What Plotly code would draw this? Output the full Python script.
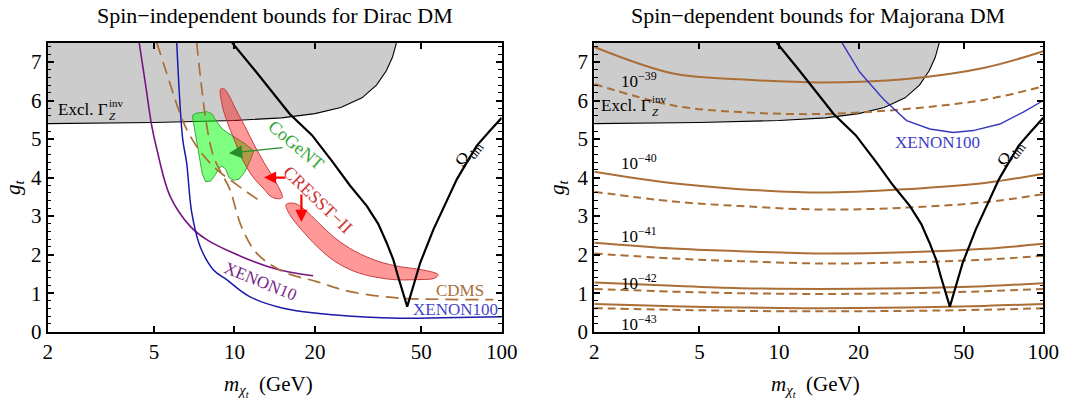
import numpy as np
import plotly.graph_objects as go

# ---------------- data ----------------
# Z invisible width exclusion boundary (both panels)
GZ_M = [2, 5, 10, 15, 20, 25, 30, 34, 37, 39, 40.4]
GZ_G = [5.40, 5.43, 5.48, 5.55, 5.66, 5.82, 6.07, 6.40, 6.77, 7.12, 7.5]

# relic density curve (both panels)
OM_M = [9.8, 12, 16.1, 19.5, 23.4, 27, 31.3, 34.5, 37.1, 39.3, 41.0, 42.7, 44.3,
        47.0, 49.5, 55.5, 61, 68, 75, 80.7, 90, 100]
OM_G = [7.5, 6.76, 5.65, 5.10, 4.39, 3.80, 3.26, 2.80, 2.31, 1.87, 1.42, 1.03, 0.65,
        1.25, 1.78, 2.65, 3.28, 3.96, 4.46, 4.83, 5.20, 5.55]

# left panel: spin-independent limits
X10_M = [4.40, 4.65, 4.90, 5.12, 5.74, 6.82, 7.87, 9.9, 13.2, 16.0, 19.7]
X10_G = [7.5, 6.40, 5.35, 4.74, 3.52, 2.74, 2.39, 2.04, 1.70, 1.55, 1.45]

X100L_M = [6.08, 6.40, 6.62, 6.92, 7.43, 8.33, 9.35, 11.4, 15.2, 23.4, 41.6, 60, 100]
X100L_G = [7.5, 5.00, 4.39, 3.09, 2.22, 1.61, 1.35, 0.91, 0.61, 0.44, 0.35, 0.36, 0.39]

CDMS_M = [7.22, 7.85, 8.30, 8.80, 9.60, 10.6, 12.1, 15.2, 20.3, 27.1, 41.6, 60, 93]
CDMS_G = [7.5, 5.40, 4.60, 4.20, 3.70, 2.74, 2.04, 1.56, 1.30, 1.04, 0.87, 0.84, 0.83]

CDMSLT_M = [5.12, 5.70, 6.30, 6.80, 7.60, 8.60, 9.60, 11.0, 12.4]
CDMSLT_G = [7.5, 6.50, 5.60, 5.10, 4.60, 4.20, 3.95, 3.65, 3.40]

COGENT_M = [6.95, 7.16, 7.91, 8.26, 8.51, 9.0, 9.40, 10.1, 11.0, 11.8, 11.5, 10.9, 10.4,
            9.96, 9.54, 9.27, 9.0, 8.75, 8.51, 8.15, 7.80, 7.58, 7.37, 7.26, 7.06, 6.95]
COGENT_G = [5.61, 5.67, 5.71, 5.65, 5.48, 5.26, 5.17, 5.04, 4.87, 4.69, 4.48, 4.13, 3.96,
            3.93, 4.00, 4.22, 4.29, 4.26, 4.09, 3.91, 3.89, 4.09, 4.56, 4.83, 5.26, 5.61]

CRESST1_M = [8.88, 9.0, 9.40, 9.96, 10.7, 11.66, 12.9, 13.67, 14.5, 15.1, 14.95, 14.06,
             12.9, 11.8, 10.9, 10.1, 9.54, 9.19, 8.88]
CRESST1_G = [6.30, 5.87, 5.44, 5.00, 4.48, 4.04, 3.70, 3.51, 3.45, 3.48, 3.61, 3.96,
             4.39, 4.87, 5.35, 5.78, 6.13, 6.29, 6.30]

CRESST2_M = [15.6, 16.8, 18.3, 20.6, 23.7, 28.2, 34.4, 42.1, 50.0, 57.8, 56.1, 47.2,
             39.8, 33.5, 28.2, 23.7, 20.6, 17.8, 16.1, 15.6]
CRESST2_G = [3.30, 3.33, 3.17, 2.83, 2.44, 2.09, 1.83, 1.68, 1.61, 1.48, 1.39, 1.35,
             1.35, 1.42, 1.56, 1.83, 2.18, 2.65, 3.04, 3.30]

# right panel: spin-dependent cross-section contours
SD_M = [2, 3.98, 7.11, 14.5, 30.4, 60, 100]
S39 = [7.39, 6.70, 6.55, 6.47, 6.56, 6.85, 7.28]
S39D = [6.43, 5.87, 5.70, 5.65, 5.78, 6.02, 6.37]
S40 = [4.15, 3.85, 3.70, 3.61, 3.70, 3.86, 4.10]
S40D = [3.63, 3.38, 3.26, 3.17, 3.22, 3.36, 3.57]
S41 = [2.31, 2.16, 2.09, 2.03, 2.06, 2.15, 2.28]
S41D = [2.03, 1.90, 1.83, 1.77, 1.80, 1.87, 1.97]
S42 = [1.28, 1.19, 1.13, 1.11, 1.13, 1.18, 1.26]
S42D = [1.11, 1.04, 1.00, 0.98, 1.00, 1.05, 1.11]
S43 = [0.72, 0.66, 0.63, 0.61, 0.63, 0.67, 0.72]
S43D = [0.61, 0.57, 0.54, 0.53, 0.54, 0.57, 0.61]
SD_LABELS = ["10<sup>−39</sup>", "10<sup>−40</sup>", "10<sup>−41</sup>",
             "10<sup>−42</sup>", "10<sup>−43</sup>"]
SD_LABEL_G = [6.54, 4.40, 2.52, 1.30, 0.22]

X100R_M = [17.3, 20.2, 24.8, 30.4, 37.2, 45.6, 54.3, 68.5, 84.0, 100]
X100R_G = [7.5, 6.74, 6.04, 5.48, 5.26, 5.17, 5.22, 5.39, 5.70, 6.0]

X_TICKS = [2, 5, 10, 20, 50, 100]
TITLES = ["Spin−independent bounds for Dirac DM", "Spin−dependent bounds for Majorana DM"]

# ---------------- styling ----------------
FONT = "Liberation Serif"
BROWN = "rgb(170,110,55)"
GRAY = "rgb(204,204,204)"
W, H = 1086, 407

def fx(px):
    return px / W

def fy(py):
    return 1 - py / H

fig = go.Figure()

def add(x, y, ax, **kw):
    xa, ya = ("x", "y") if ax == 1 else ("x2", "y2")
    fig.add_trace(go.Scatter(x=x, y=y, xaxis=xa, yaxis=ya, hoverinfo="skip", **kw))

for ax in (1, 2):
    add([2] + GZ_M + [2], [7.5] + GZ_G + [7.5], ax, mode="lines", fill="toself",
        fillcolor=GRAY, line=dict(width=0))
    add(GZ_M, GZ_G, ax, mode="lines", line=dict(color="black", width=1.1))

# left panel regions
add(COGENT_M, COGENT_G, 1, mode="lines", fill="toself", fillcolor="rgba(0,255,0,0.5)",
    line=dict(color="rgb(60,170,60)", width=1))
add(CRESST1_M, CRESST1_G, 1, mode="lines", fill="toself", fillcolor="rgba(255,0,0,0.4)",
    line=dict(color="rgb(200,60,60)", width=1), line_shape="spline")
add(CRESST2_M, CRESST2_G, 1, mode="lines", fill="toself", fillcolor="rgba(255,0,0,0.4)",
    line=dict(color="rgb(200,60,60)", width=1), line_shape="spline")

# left panel lines
add(X10_M, X10_G, 1, mode="lines", line=dict(color="rgb(120,20,130)", width=1.6, shape="spline"))
add(X100L_M, X100L_G, 1, mode="lines", line=dict(color="rgb(25,25,170)", width=1.5, shape="spline"))
add(CDMSLT_M, CDMSLT_G, 1, mode="lines", line=dict(color=BROWN, width=1.7, dash="13px,7px", shape="spline"))
add(CDMS_M, CDMS_G, 1, mode="lines", line=dict(color=BROWN, width=1.7, dash="13px,7px", shape="spline"))

# right panel lines
for s, d in [(S39, S39D), (S40, S40D), (S41, S41D), (S42, S42D), (S43, S43D)]:
    add(SD_M, s, 2, mode="lines", line=dict(color=BROWN, width=2, shape="spline"))
    add(SD_M, d, 2, mode="lines", line=dict(color=BROWN, width=2, dash="8px,5px", shape="spline"))
add(X100R_M, X100R_G, 2, mode="lines", line=dict(color="rgb(55,55,190)", width=1.4))

for ax in (1, 2):
    add(OM_M, OM_G, ax, mode="lines", line=dict(color="black", width=2.2))

# ---------------- axes ----------------
L = fx(47.7), fx(501.7)
R = fx(594.3), fx(1043.3)
YD = fy(331.7), fy(42.7)

def xaxis(dom, anchor):
    return dict(domain=dom, anchor=anchor, type="log", range=[np.log10(2), 2],
                tickvals=X_TICKS, ticktext=[str(v) for v in X_TICKS],
                ticks="inside", ticklen=6, tickwidth=1.5, tickcolor="black",
                showline=True, linewidth=2, linecolor="black", mirror="allticks",
                showgrid=False, zeroline=False, automargin=False,
                tickfont=dict(family=FONT, size=21, color="black"))

def yaxis(anchor):
    return dict(domain=YD, anchor=anchor, range=[0, 7.5], dtick=1, tick0=0,
                ticks="inside", ticklen=6, tickwidth=1.5, tickcolor="black",
                minor=dict(dtick=0.2, ticks="inside", ticklen=3.5, tickwidth=1.2, tickcolor="black"),
                showline=True, linewidth=2, linecolor="black", mirror="allticks",
                showgrid=False, zeroline=False, automargin=False,
                tickfont=dict(family=FONT, size=21, color="black"))

fig.update_layout(
    width=W, height=H, margin=dict(l=0, r=0, t=0, b=0),
    paper_bgcolor="white", plot_bgcolor="white", showlegend=False,
    xaxis=xaxis(L, "y"), yaxis=yaxis("x"),
    xaxis2=xaxis(R, "y2"), yaxis2=yaxis("x2"),
    font=dict(family=FONT, color="black"),
)

lg = np.log10
ann = []

def txt(text, x, y, ax, size=17, color="black", angle=0, **kw):
    a = dict(text=text, x=lg(x), y=y, xref="x" if ax == 1 else "x2",
             yref="y" if ax == 1 else "y2", showarrow=False, textangle=angle,
             font=dict(family=FONT, size=size, color=color))
    a.update(kw)
    ann.append(a)

def arrow(x0, y0, x1, y1, color, width, size):
    ann.append(dict(text="", x=lg(x1), y=y1, ax=lg(x0), ay=y0, xref="x", yref="y",
                    axref="x", ayref="y", showarrow=True, arrowhead=2, arrowsize=size,
                    arrowwidth=width, arrowcolor=color, standoff=0))

def ptxt(text, px, py, size=20, angle=0, xanchor="center"):
    ann.append(dict(text=text, x=fx(px), y=fy(py), xref="paper", yref="paper",
                    xanchor=xanchor, yanchor="middle", showarrow=False, textangle=angle,
                    font=dict(family=FONT, size=size, color="black")))

# titles and axis labels
for cx, t in zip([275, 818], TITLES):
    ptxt(t, cx, 16, size=22)
for lx in [222, 769]:
    ptxt("<i>m</i><sub><i>χ</i><sub><i>t</i></sub></sub>\u00a0\u00a0(GeV)", lx, 386, size=21,
         xanchor="left")
for cx in [14, 558]:
    ptxt("<i>g<sub>t</sub></i>", cx, 187, size=21, angle=-90)

# Excl. Gamma_Z^inv labels
for ax, gx, gy in [(1, 3.42, 5.76), (2, 3.33, 5.86)]:
    txt("Excl. Γ", gx, gy, ax, size=17, xanchor="right")
    txt("inv", gx, gy, ax, size=11, xanchor="left", yshift=7, xshift=-3)
    txt("<i>Z</i>", gx, gy, ax, size=11, xanchor="left", yshift=-6, xshift=-3)

# Omega labels
for ax in (1, 2):
    txt("Ω<sub>dm</sub>", 75.5, 4.62, ax, size=18, angle=-52)

# left panel labels
txt("CoGeNT", 17.0, 4.84, 1, size=18, color="rgb(50,165,50)", angle=40)
txt("CRESST−II", 20.6, 3.43, 1, size=18, color="rgb(205,55,55)", angle=44)
txt("XENON10", 12.5, 1.29, 1, size=17, color="rgb(120,30,135)", angle=22)
txt("CDMS", 69.9, 1.06, 1, size=17, color="rgb(170,110,60)")
txt("XENON100", 66.9, 0.58, 1, size=17, color="rgb(70,70,200)")

arrow(15.3, 4.78, 9.54, 4.63, "rgb(40,140,40)", 1.2, 2.2)
arrow(15.7, 4.0, 12.9, 4.0, "red", 2.2, 1.1)
arrow(17.8, 3.6, 17.8, 2.85, "red", 2.2, 1.1)

# right panel labels
for t, g in zip(SD_LABELS, SD_LABEL_G):
    txt(t, 2.95, g, 2, size=17)
txt("XENON100", 39.9, 4.91, 2, size=17, color="rgb(60,60,200)")

fig.update_layout(annotations=ann)
fig.write_html("out.html", config={"displayModeBar": False},
               post_script="document.body.style.margin='0px';")
